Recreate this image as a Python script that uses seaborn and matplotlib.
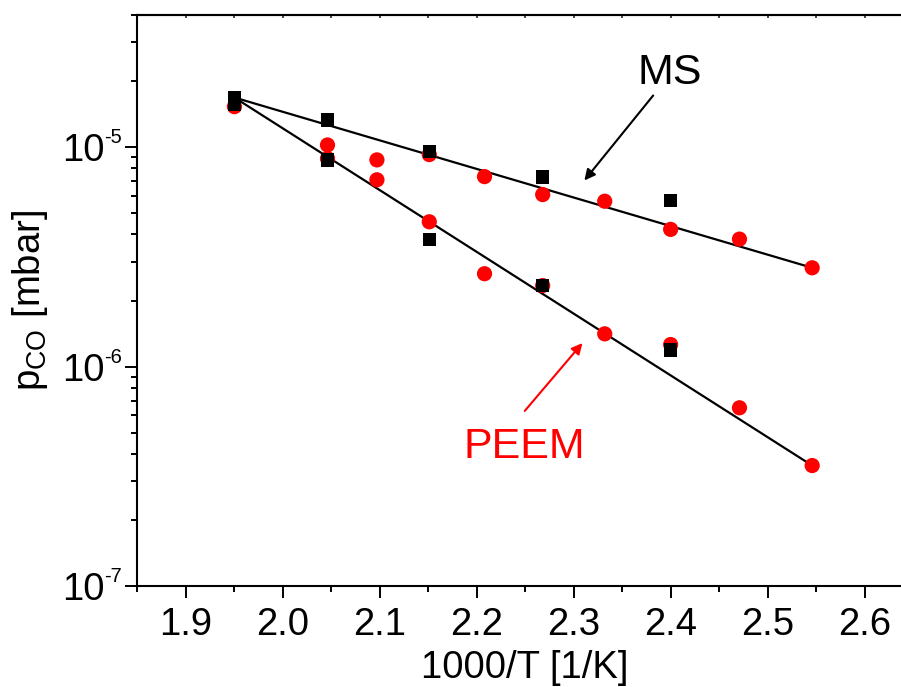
import numpy as np
import pandas as pd
import matplotlib
matplotlib.use("Agg")
import matplotlib.pyplot as plt
from matplotlib.ticker import MultipleLocator, LogLocator, FixedFormatter, NullFormatter, FormatStrFormatter
from matplotlib.transforms import blended_transform_factory, ScaledTranslation
import seaborn as sns

# Inverse temperature (1000/T, 1/K) and CO pressures (mbar)
peem_x = [1.95, 2.046, 2.046, 2.097, 2.097, 2.151, 2.151, 2.208, 2.208, 2.268, 2.268,
          2.332, 2.332, 2.40, 2.40, 2.471, 2.471, 2.546, 2.546]
peem_p = [1.53e-5, 1.023e-5, 8.87e-6, 8.75e-6, 7.10e-6, 9.25e-6, 4.57e-6, 7.34e-6, 2.65e-6,
          6.08e-6, 2.34e-6, 5.67e-6, 1.41e-6, 4.22e-6, 1.26e-6, 3.81e-6, 6.49e-7, 2.82e-6, 3.54e-7]

ms_x = [1.95, 1.95, 2.046, 2.046, 2.151, 2.151, 2.268, 2.268, 2.40, 2.40]
ms_p = [1.683e-5, 1.563e-5, 1.330e-5, 8.75e-6, 9.57e-6, 3.80e-6, 7.30e-6, 2.34e-6, 5.71e-6, 1.19e-6]

# Arrhenius fit lines (end points)
fit_x = [1.95, 2.546]
fit_upper = [1.683e-5, 2.82e-6]
fit_lower = [1.683e-5, 3.54e-7]

# decade ticks on the pressure axis
y_decades = [1e-7, 1e-6, 1e-5]

sns.set_theme(style="ticks")
plt.rcParams["font.family"] = ["Liberation Sans", "DejaVu Sans"]
plt.rcParams["mathtext.fontset"] = "custom"
plt.rcParams["mathtext.rm"] = "Liberation Sans"
plt.rcParams["mathtext.it"] = "Liberation Sans:italic"
plt.rcParams["mathtext.bf"] = "Liberation Sans:bold"

FS = 27.5

fig = plt.figure(figsize=(9.01, 6.87), dpi=100)
ax = fig.add_axes([0.1526, 0.147, 0.8607, 0.8311])

fits = pd.DataFrame({"x": fit_x * 2,
                     "p": fit_upper + fit_lower,
                     "fit": ["upper"] * 2 + ["lower"] * 2})
sns.lineplot(data=fits, x="x", y="p", units="fit", estimator=None,
             color="black", linewidth=1.6, ax=ax, zorder=2)

sns.scatterplot(x=peem_x, y=peem_p, marker="o", s=120, color="#ff0000",
                edgecolor="none", linewidth=0, ax=ax, zorder=3)
sns.scatterplot(x=ms_x, y=ms_p, marker="s", s=95, color="black",
                edgecolor="none", linewidth=0, ax=ax, zorder=4)

ax.set_yscale("log")
ax.set_xlim(1.85, 2.65)
ax.set_ylim(1e-7, 4e-5)

ax.xaxis.set_major_locator(MultipleLocator(0.1))
ax.xaxis.set_minor_locator(MultipleLocator(0.05))
ax.xaxis.set_major_formatter(FormatStrFormatter("%.1f"))

# decade labels: base "10" as tick label, exponent set as a small raised text
ax.set_yticks(y_decades)
ax.yaxis.set_major_formatter(FixedFormatter(["10"] * len(y_decades)))
ax.yaxis.set_minor_locator(LogLocator(base=10, subs=np.arange(2, 10)))
ax.yaxis.set_minor_formatter(NullFormatter())

exp_trans = blended_transform_factory(ax.transAxes, ax.transData) + \
    ScaledTranslation(0, 4 / 100, fig.dpi_scale_trans)
for v in y_decades:
    e = int(round(np.log10(v)))
    ax.text(-0.0425, v, ("-" if e < 0 else "") + str(abs(e)), fontsize=14.5,
            ha="left", va="baseline", transform=exp_trans, clip_on=False,
            color="black")

ax.tick_params(axis="both", which="major", direction="out", length=8.5, width=1.4,
               labelsize=FS, color="black", labelcolor="black")
ax.tick_params(axis="both", which="minor", direction="out", length=4.3, width=1.4,
               color="black")
ax.tick_params(axis="x", which="major", pad=6.5)
ax.tick_params(axis="y", which="major", pad=15.5)

for side in ["left", "bottom", "top", "right"]:
    ax.spines[side].set_visible(True)
    ax.spines[side].set_linewidth(1.5)
    ax.spines[side].set_color("black")

# small inward ticks along the top frame
top = ax.secondary_xaxis("top")
top.xaxis.set_major_locator(MultipleLocator(0.1))
top.xaxis.set_minor_locator(MultipleLocator(0.05))
top.tick_params(which="both", direction="in", length=2.5, width=1.2, labeltop=False)
top.spines["top"].set_linewidth(1.5)

ax.set_xlabel("1000/T [1/K]", fontsize=FS, labelpad=5, color="black")
ax.set_ylabel(r"$\mathregular{p_{CO}}$ [mbar]", fontsize=FS, color="black")
ax.yaxis.set_label_coords(-0.113, 0.5)

ax.text(2.399, 1.948e-5, "MS", fontsize=31, ha="center", va="baseline", color="black")
ax.annotate("", xy=(2.311, 7.05e-6), xytext=(2.382, 1.72e-5),
            arrowprops=dict(arrowstyle="-|>", color="black", lw=1.5,
                            mutation_scale=16, shrinkA=0, shrinkB=0))

ax.text(2.2492, 3.825e-7, "PEEM", fontsize=31, ha="center", va="baseline", color="#ff0000")
ax.annotate("", xy=(2.309, 1.28e-6), xytext=(2.2495, 6.28e-7),
            arrowprops=dict(arrowstyle="-|>", color="#ff0000", lw=1.5,
                            mutation_scale=16, shrinkA=0, shrinkB=0))

ax.grid(False)
fig.savefig("out.png", dpi=100, facecolor="white")
